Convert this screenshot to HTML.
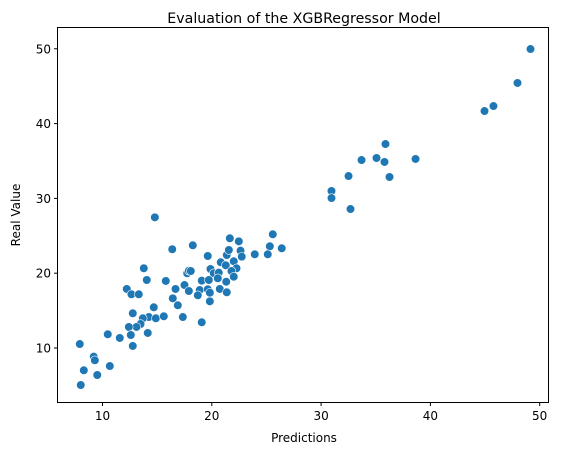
<!DOCTYPE html>
<html><head><meta charset="utf-8"><style>
body{margin:0;background:#fff}
svg{display:block;font-family:"DejaVu Sans","Liberation Sans",sans-serif}
</style></head><body>
<svg id="chart" width="562" height="455">
<text x="304" y="23" text-anchor="middle" font-size="14.2">Evaluation of the XGBRegressor Model</text>
<g id="marks"></g>
<rect x="57.5" y="27.5" width="491" height="375" fill="none" stroke="#000" stroke-width="1"/>
<g id="xt"></g>
<g id="yt"></g>
<text x="304" y="442" text-anchor="middle" font-size="12">Predictions</text>
<text transform="translate(20,215) rotate(-90)" text-anchor="middle" font-size="12">Real Value</text>
</svg>
<script>
const predictions=[14.79,16.38,18.26,13.78,14.05,15.79,12.22,12.65,13.32,16.68,17.75,17.90,17.50,17.90,16.43,16.89,17.35,14.69,12.77,14.24,14.88,15.61,13.69,13.48,13.11,12.41,12.59,14.14,12.77,10.48,11.58,7.92,9.20,9.30,10.67,8.29,9.52,8.01,
25.58,21.65,22.47,25.31,26.40,19.63,21.37,21.56,22.63,23.93,25.12,22.74,20.82,22.01,19.88,21.28,22.26,18.08,20.18,20.64,21.80,22.01,19.08,19.73,20.55,21.32,18.89,19.63,20.73,21.37,18.72,19.82,19.82,19.08,
30.95,30.95,32.51,32.69,33.70,35.07,35.89,35.80,36.26,38.64,44.95,45.77,47.97,49.16];
const realValues=[27.47,23.20,23.73,20.66,19.09,18.96,17.89,17.18,17.18,17.89,19.99,20.33,18.42,17.62,16.64,15.71,14.14,15.44,14.64,14.14,13.97,14.24,13.97,13.21,12.81,12.81,11.74,12.01,10.27,11.83,11.34,10.53,8.84,8.36,7.59,7.02,6.39,5.05,
25.20,24.67,24.26,23.60,23.33,22.30,22.43,23.10,23.01,22.53,22.53,22.21,21.46,21.59,20.56,21.06,20.66,20.29,19.99,20.07,20.29,19.53,19.00,19.09,19.32,18.86,17.75,17.85,17.89,17.45,17.05,17.39,16.24,13.44,
30.99,30.05,32.99,28.58,35.13,35.40,37.27,34.87,32.86,35.27,41.68,42.35,45.43,49.97];
const xTicks=[10,20,30,40,50];
const yTicks=[10,20,30,40,50];
const NS="http://www.w3.org/2000/svg";
function sx(v){return 102.5+(v-10)*10.93;}
function sy(v){return 348-(v-10)*7.48;}
const marks=document.getElementById('marks');
for(let i=0;i<predictions.length;i++){
  const c=document.createElementNS(NS,'circle');
  c.setAttribute('cx',sx(predictions[i]));c.setAttribute('cy',sy(realValues[i]));
  c.setAttribute('r',4.3);c.setAttribute('fill','#1f77b4');c.setAttribute('stroke','#fff');c.setAttribute('stroke-width',0.6);
  
  
  marks.appendChild(c);
}
const xt=document.getElementById('xt');
xTicks.forEach(t=>{
  const l=document.createElementNS(NS,'line');
  l.setAttribute('x1',sx(t));l.setAttribute('x2',sx(t));l.setAttribute('y1',402.5);l.setAttribute('y2',406);l.setAttribute('stroke','#000');
  
  
  xt.appendChild(l);
  const tx=document.createElementNS(NS,'text');
  tx.setAttribute('x',sx(t));tx.setAttribute('y',420);tx.setAttribute('text-anchor','middle');tx.setAttribute('font-size','12');
  tx.textContent=t;
  
  
  xt.appendChild(tx);
});
const yt=document.getElementById('yt');
yTicks.forEach(t=>{
  const l=document.createElementNS(NS,'line');
  l.setAttribute('x1',54);l.setAttribute('x2',57.5);l.setAttribute('y1',sy(t));l.setAttribute('y2',sy(t));l.setAttribute('stroke','#000');
  
  
  yt.appendChild(l);
  const tx=document.createElementNS(NS,'text');
  tx.setAttribute('x',51);tx.setAttribute('y',sy(t)+4.5);tx.setAttribute('text-anchor','end');tx.setAttribute('font-size','12');
  tx.textContent=t;
  
  
  yt.appendChild(tx);
});
</script>
</body></html>
